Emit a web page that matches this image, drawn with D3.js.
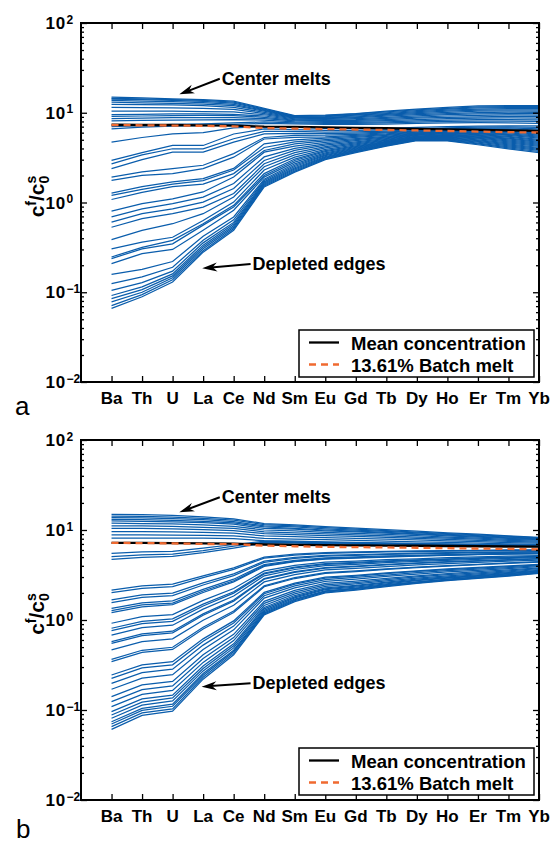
<!DOCTYPE html>
<html><head><meta charset="utf-8">
<script src="https://cdn.jsdelivr.net/npm/d3@7"></script>
<style>
body{margin:0;background:#fff}
svg{display:block}
text{font-family:"Liberation Sans",Arial,Helvetica,sans-serif}
</style>
</head><body>
<svg id="c" width="556" height="843"></svg>
<script>
// ---------- DATA ----------
const elements = ["Ba","Th","U","La","Ce","Nd","Sm","Eu","Gd","Tb","Dy","Ho","Er","Tm","Yb"];
const decadeExponents = [-2,-1,0,1,2];
const legendLabels = ["Mean concentration","13.61% Batch melt"];
const panelLetters = ["a","b"];

// Panel a: depleted (lower) melts
const meltsALower = [
[0.066,0.089,0.13,0.28,0.49,1.49,2.18,3.0,3.6,4.25,4.9,4.85,4.4,3.95,3.6],
[0.071,0.094,0.138,0.29,0.51,1.53,2.24,3.06,3.66,4.3,4.94,4.92,4.5,4.06,3.7],
[0.078,0.1,0.145,0.305,0.53,1.57,2.3,3.12,3.72,4.35,4.98,4.99,4.6,4.17,3.8],
[0.085,0.107,0.152,0.32,0.55,1.61,2.37,3.18,3.78,4.4,5.02,5.06,4.7,4.28,3.9],
[0.092,0.115,0.16,0.335,0.575,1.65,2.44,3.25,3.84,4.45,5.06,5.13,4.8,4.39,4.0],
[0.105,0.128,0.172,0.355,0.6,1.7,2.52,3.32,3.9,4.5,5.1,5.2,4.9,4.5,4.1],
[0.125,0.148,0.19,0.38,0.64,1.76,2.6,3.4,3.97,4.56,5.15,5.28,5.0,4.62,4.21],
[0.158,0.18,0.22,0.42,0.69,1.82,2.7,3.48,4.04,4.62,5.2,5.36,5.1,4.74,4.32],
[0.208,0.27,0.3,0.49,0.82,1.92,2.82,3.58,4.12,4.68,5.25,5.44,5.2,4.86,4.44],
[0.237,0.305,0.346,0.56,0.89,2.0,2.94,3.68,4.2,4.74,5.3,5.52,5.3,4.98,4.56],
[0.247,0.317,0.378,0.58,0.93,2.1,3.05,3.78,4.28,4.8,5.35,5.6,5.4,5.1,4.68],
[0.305,0.362,0.41,0.63,1.01,2.3,3.2,3.9,4.38,4.88,5.42,5.68,5.5,5.22,4.8],
[0.385,0.49,0.58,0.75,1.15,2.5,3.4,4.05,4.5,4.96,5.5,5.76,5.6,5.34,4.93],
[0.53,0.66,0.75,0.89,1.26,2.7,3.6,4.2,4.62,5.05,5.58,5.84,5.7,5.46,5.06],
[0.605,0.75,0.85,1.01,1.43,2.94,3.8,4.35,4.75,5.15,5.66,5.92,5.8,5.58,5.2],
[0.69,0.85,0.97,1.15,1.63,3.22,4.0,4.5,4.88,5.25,5.74,6.0,5.9,5.7,5.34],
[0.80,0.97,1.1,1.31,1.92,3.64,4.25,4.67,5.02,5.36,5.82,6.08,6.0,5.83,5.48],
[1.08,1.3,1.5,1.6,2.1,3.8,4.5,4.85,5.16,5.47,5.9,6.16,6.1,5.96,5.62],
[1.20,1.4,1.6,1.75,2.3,4.1,4.75,5.02,5.3,5.58,5.98,6.24,6.2,6.09,5.77],
[1.27,1.5,1.7,1.85,2.4,4.5,5.0,5.2,5.45,5.7,6.07,6.32,6.3,6.22,5.92],
[1.76,2.0,2.1,2.38,3.2,5.1,5.3,5.4,5.6,5.82,6.16,6.4,6.4,6.35,6.08],
[1.92,2.2,2.38,2.6,3.5,5.3,5.6,5.62,5.76,5.95,6.25,6.48,6.5,6.48,6.24],
[2.38,3.0,3.64,3.64,4.7,5.8,5.9,5.85,5.94,6.1,6.36,6.58,6.62,6.62,6.42],
[2.70,3.4,3.97,3.97,5.13,6.2,6.2,6.1,6.14,6.26,6.48,6.68,6.76,6.78,6.62],
[2.94,3.6,4.32,4.32,5.8,6.6,6.5,6.35,6.35,6.45,6.63,6.8,6.9,6.95,6.86],
[4.7,5.3,5.8,6.0,6.8,7.0,6.9,6.7,6.65,6.7,6.85,7.0,7.1,7.15,7.15]
];
// Panel a: center (upper) melts
const meltsAUpper = [
[14.9,14.6,14.3,14.0,13.5,11.2,9.3,9.4,9.8,10.4,11.0,11.5,11.9,12.0,12.0],
[14.5,14.3,14.0,13.7,13.1,11.0,9.2,9.3,9.7,10.2,10.8,11.2,11.6,11.7,11.7],
[14.2,14.0,13.7,13.4,12.8,10.8,9.1,9.2,9.55,10.0,10.55,10.95,11.3,11.4,11.4],
[13.7,13.5,13.3,13.0,12.4,10.6,9.0,9.05,9.4,9.8,10.3,10.7,11.0,11.1,11.1],
[13.1,12.9,12.7,12.5,12.0,10.4,8.9,8.9,9.2,9.6,10.05,10.4,10.7,10.8,10.8],
[12.4,12.3,12.2,12.0,11.5,10.1,8.8,8.75,9.0,9.4,9.8,10.1,10.4,10.5,10.45],
[11.5,11.4,11.3,11.2,10.9,9.8,8.7,8.6,8.8,9.15,9.55,9.8,10.05,10.15,10.1],
[10.4,10.4,10.4,10.3,10.2,9.5,8.55,8.45,8.6,8.9,9.25,9.5,9.7,9.8,9.75],
[9.5,9.6,9.7,9.7,9.6,9.2,8.4,8.3,8.4,8.65,8.95,9.2,9.35,9.45,9.4],
[9.1,9.2,9.3,9.35,9.3,8.9,8.25,8.15,8.2,8.4,8.7,8.9,9.0,9.1,9.05],
[8.6,8.7,8.8,8.85,8.8,8.6,8.1,8.0,8.0,8.15,8.4,8.6,8.7,8.75,8.7],
[8.1,8.2,8.3,8.35,8.4,8.3,7.9,7.8,7.8,7.9,8.1,8.3,8.4,8.4,8.35],
[7.0,7.2,7.4,7.5,7.7,7.9,7.7,7.6,7.6,7.7,7.85,8.0,8.05,8.05,8.0],
[6.6,6.9,7.1,7.2,7.4,7.6,7.5,7.4,7.4,7.45,7.6,7.7,7.75,7.7,7.6]
];
const meanA  = [7.35,7.3,7.3,7.25,7.2,7.0,6.95,6.88,6.8,6.72,6.62,6.52,6.44,6.35,6.27];
const batchA = [7.3,7.25,7.2,7.15,7.05,6.75,6.65,6.58,6.5,6.43,6.35,6.26,6.17,6.08,6.02];

// Panel b: depleted (lower) melts
const meltsBLower = [
[0.061,0.087,0.097,0.22,0.41,1.14,1.6,2.0,2.15,2.35,2.55,2.74,2.9,3.08,3.3],
[0.0653,0.093,0.103,0.231,0.428,1.17,1.64,2.04,2.19,2.39,2.59,2.78,2.94,3.12,3.34],
[0.0698,0.099,0.11,0.243,0.447,1.2,1.68,2.08,2.23,2.43,2.63,2.82,2.98,3.16,3.38],
[0.074,0.104,0.116,0.254,0.462,1.24,1.71,2.11,2.26,2.47,2.66,2.85,3.01,3.19,3.41],
[0.081,0.113,0.126,0.272,0.49,1.28,1.76,2.17,2.32,2.52,2.73,2.92,3.07,3.25,3.46],
[0.088,0.122,0.136,0.289,0.516,1.33,1.81,2.22,2.38,2.58,2.78,2.96,3.12,3.3,3.51],
[0.096,0.133,0.146,0.308,0.544,1.38,1.87,2.28,2.43,2.64,2.84,3.02,3.18,3.35,3.56],
[0.109,0.149,0.165,0.338,0.59,1.45,1.95,2.37,2.52,2.72,2.92,3.1,3.26,3.43,3.64],
[0.124,0.168,0.185,0.373,0.638,1.53,2.04,2.45,2.61,2.81,3.01,3.19,3.34,3.52,3.72],
[0.141,0.19,0.208,0.41,0.692,1.61,2.13,2.55,2.71,2.9,3.1,3.28,3.44,3.6,3.8],
[0.17,0.226,0.247,0.471,0.778,1.75,2.27,2.69,2.85,3.05,3.24,3.42,3.57,3.73,3.92],
[0.198,0.26,0.284,0.526,0.855,1.86,2.39,2.81,2.97,3.16,3.35,3.53,3.68,3.83,4.01],
[0.225,0.293,0.318,0.58,0.926,1.96,2.5,2.92,3.07,3.27,3.46,3.63,3.78,3.93,4.11],
[0.245,0.317,0.344,0.617,0.977,2.03,2.57,2.99,3.14,3.34,3.52,3.7,3.84,4.0,4.16],
[0.344,0.436,0.471,0.795,1.21,2.34,2.89,3.3,3.45,3.65,3.82,3.98,4.12,4.25,4.41],
[0.366,0.461,0.498,0.832,1.26,2.4,2.95,3.36,3.51,3.7,3.87,4.03,4.16,4.3,4.45],
[0.465,0.576,0.618,0.994,1.46,2.65,3.2,3.6,3.75,3.93,4.09,4.24,4.37,4.5,4.64],
[0.55,0.672,0.721,1.13,1.62,2.84,3.39,3.78,3.93,4.1,4.25,4.39,4.52,4.64,4.77],
[0.574,0.702,0.751,1.17,1.67,2.89,3.44,3.83,3.98,4.15,4.3,4.44,4.56,4.68,4.8],
[0.68,0.821,0.875,1.32,1.85,3.1,3.64,4.02,4.16,4.33,4.47,4.6,4.72,4.84,4.94],
[0.76,0.911,0.968,1.43,1.99,3.25,3.79,4.14,4.29,4.46,4.59,4.72,4.83,4.94,5.03],
[0.81,0.965,1.03,1.5,2.06,3.33,3.86,4.23,4.37,4.53,4.65,4.78,4.89,5.0,5.09],
[0.92,1.09,1.15,1.65,2.24,3.51,4.04,4.39,4.52,4.68,4.79,4.92,5.03,5.11,5.19],
[1.21,1.4,1.48,2.02,2.65,3.94,4.44,4.74,4.88,5.01,5.11,5.21,5.31,5.38,5.44],
[1.27,1.47,1.54,2.1,2.73,4.02,4.51,4.81,4.94,5.07,5.17,5.27,5.36,5.43,5.49],
[1.35,1.55,1.63,2.19,2.84,4.12,4.6,4.89,5.02,5.15,5.24,5.33,5.43,5.49,5.54],
[1.56,1.78,1.87,2.45,3.11,4.37,4.83,5.11,5.23,5.35,5.43,5.5,5.59,5.64,5.68],
[1.67,1.9,1.99,2.58,3.25,4.51,4.96,5.21,5.33,5.44,5.52,5.6,5.67,5.72,5.75],
[2.01,2.25,2.35,2.95,3.65,4.86,5.27,5.5,5.6,5.7,5.75,5.82,5.88,5.92,5.92],
[2.15,2.4,2.5,3.1,3.8,5.0,5.4,5.6,5.7,5.8,5.85,5.9,5.95,6.0,6.0]
];
// Panel b: melts near the mean
const meltsBMiddle = [
[5.5,5.7,5.8,6.3,6.9,7.5,7.4,7.3,7.2,7.1,7.0,6.95,6.9,6.85,6.8],
[5.06,5.3,5.4,5.9,6.6,7.35,7.3,7.2,7.1,7.0,6.9,6.85,6.8,6.75,6.7],
[4.72,4.95,5.1,5.6,6.3,7.2,7.15,7.05,6.95,6.85,6.75,6.7,6.65,6.6,6.55]
];
// Panel b: center (upper) melts
const meltsBUpper = [
[14.9,14.8,14.5,14.0,13.3,11.8,11.4,10.9,10.5,10.1,9.7,9.3,9.0,8.6,8.3],
[14.3,14.2,13.9,13.5,12.9,11.5,11.1,10.6,10.2,9.87,9.49,9.1,8.82,8.47,8.19],
[13.7,13.6,13.4,13.0,12.4,11.1,10.8,10.3,9.98,9.63,9.29,8.93,8.67,8.33,8.06],
[13.1,13.0,12.8,12.5,12.0,10.8,10.4,10.0,9.74,9.4,9.08,8.75,8.51,8.19,7.95],
[12.6,12.5,12.3,12.1,11.6,10.4,10.2,9.8,9.51,9.21,8.92,8.59,8.36,8.06,7.84],
[11.9,11.8,11.7,11.4,11.0,10.0,9.77,9.44,9.19,8.92,8.65,8.36,8.14,7.88,7.7],
[11.1,11.1,11.0,10.7,10.4,9.55,9.31,9.04,8.82,8.58,8.34,8.11,7.91,7.68,7.52],
[10.4,10.4,10.3,10.1,9.86,9.1,8.91,8.67,8.48,8.27,8.08,7.85,7.69,7.49,7.35],
[9.6,9.58,9.52,9.43,9.21,8.59,8.44,8.24,8.08,7.91,7.75,7.57,7.42,7.26,7.15],
[8.8,8.8,8.76,8.72,8.58,8.07,7.94,7.8,7.67,7.54,7.4,7.28,7.16,7.02,6.94],
[8.1,8.1,8.1,8.1,8.0,7.6,7.5,7.4,7.3,7.2,7.1,7.0,6.9,6.8,6.75]
];
const meanB  = [7.2,7.2,7.15,7.1,7.05,6.9,6.85,6.8,6.75,6.72,6.68,6.64,6.6,6.56,6.53];
const batchB = [7.2,7.15,7.1,7.0,6.95,6.7,6.6,6.5,6.45,6.4,6.35,6.28,6.22,6.16,6.1];

// annotations: text anchor and arrow tip in data units (element index, value)
const annotationsA = [
  {text:"Center melts",  tx:4.61, tv:20.5, ax:3.22, av:16.05},
  {text:"Depleted edges",tx:5.62, tv:0.177, ax:3.97, av:0.185}
];
const annotationsB = [
  {text:"Center melts",  tx:4.61, tv:19.8, ax:3.22, av:15.7},
  {text:"Depleted edges",tx:5.62, tv:0.17, ax:3.95, av:0.1815}
];

// ---------- LAYOUT ----------
const BLUE = "#0a5dac", ORANGE = "#f06a30";
const panels = [
  {top:23,  bottom:382, melts:[...meltsALower, ...meltsAUpper], mean:meanA, batch:batchA, ann:annotationsA, letter:panelLetters[0], letterX:15, letterY:415},
  {top:440, bottom:800, melts:[...meltsBLower, ...meltsBMiddle, ...meltsBUpper], mean:meanB, batch:batchB, ann:annotationsB, letter:panelLetters[1], letterX:16, letterY:838}
];
const svg = d3.select("#c");
const x = d3.scaleLinear().domain([0, 15]).range([81, 539]);

panels.forEach(p => {
  const y = d3.scaleLog().domain([0.01, 100]).range([p.bottom, p.top]);
  const g = svg.append("g");
  const line = d3.line().x((d,i) => x(i+1)).y(d => y(d));

  g.append("g").selectAll("path").data(p.melts).join("path")
    .attr("d", line).attr("fill","none").attr("stroke",BLUE).attr("stroke-width",1.25);
  g.append("path").attr("d", line(p.mean)).attr("fill","none").attr("stroke","#000").attr("stroke-width",2.3);
  g.append("path").attr("d", line(p.batch)).attr("fill","none").attr("stroke",ORANGE)
    .attr("stroke-width",2.3).attr("stroke-dasharray","7,5");

  // ticks
  const majors = decadeExponents.map(e => Math.pow(10, e));
  const minors = [];
  decadeExponents.slice(0,-1).forEach(e => { for (let m=2;m<=9;m++) minors.push(m*Math.pow(10,e)); });
  const strip = s => s.call(a => a.select(".domain").remove()).selectAll("line").attr("stroke","#000").attr("stroke-width",1.3);
  g.append("g").attr("transform",`translate(${x(0)},0)`).call(d3.axisLeft(y).tickValues(majors).tickSize(-6).tickFormat("")).call(strip);
  g.append("g").attr("transform",`translate(${x(0)},0)`).call(d3.axisLeft(y).tickValues(minors).tickSize(-3).tickFormat("")).call(strip);
  g.append("g").attr("transform",`translate(${x(15)},0)`).call(d3.axisRight(y).tickValues(majors).tickSize(-6).tickFormat("")).call(strip);
  g.append("g").attr("transform",`translate(${x(15)},0)`).call(d3.axisRight(y).tickValues(minors).tickSize(-3).tickFormat("")).call(strip);
  const xt = d3.range(1, elements.length+1);
  g.append("g").attr("transform",`translate(0,${p.bottom})`).call(d3.axisBottom(x).tickValues(xt).tickSize(-6).tickFormat("")).call(strip);
  g.append("g").attr("transform",`translate(0,${p.top})`).call(d3.axisTop(x).tickValues(xt).tickSize(-6).tickFormat("")).call(strip);

  // box
  g.append("rect").attr("x",x(0)).attr("y",p.top).attr("width",x(15)-x(0)).attr("height",p.bottom-p.top)
    .attr("fill","none").attr("stroke","#000").attr("stroke-width",2);

  // y tick labels
  decadeExponents.forEach(e => {
    const ty = y(Math.pow(10,e));
    g.append("text").attr("x",x(0)-15).attr("y",ty+6).attr("text-anchor","end")
      .attr("font-size",17).attr("font-weight","bold").attr("letter-spacing","0.8").text("10");
    g.append("text").attr("x",x(0)-14.5).attr("y",ty+0.5).attr("text-anchor","start")
      .attr("font-size",12).attr("font-weight","bold").text(e < 0 ? "\u2212" + Math.abs(e) : String(e));
  });
  // x tick labels
  g.append("g").selectAll("text").data(elements).join("text")
    .attr("x",(d,i)=>x(i+1)).attr("y",p.bottom+22).attr("text-anchor","middle")
    .attr("font-size",17).attr("font-weight","bold").text(d=>d);

  // y axis title c^f / c_0^s
  const mid = (p.top+p.bottom)/2 - 6;
  const t = g.append("text").attr("transform",`translate(43.5,${mid}) rotate(-90)`)
    .attr("text-anchor","middle").attr("font-weight","bold").attr("font-size",21);
  t.append("tspan").text("c");
  t.append("tspan").attr("font-size",14).attr("dy",-8).text("f");
  t.append("tspan").attr("dy",8).text("/c");
  t.append("tspan").attr("font-size",14).attr("dy",5).text("0");
  t.append("tspan").attr("font-size",14).attr("dx",-7.8).attr("dy",-13).text("s");

  // annotations
  p.ann.forEach(a => {
    const txp = x(a.tx), typ = y(a.tv);
    g.append("text").attr("x",txp).attr("y",typ).attr("font-size",18).attr("font-weight","bold").text(a.text);
    const tail = [txp-2, typ-6];
    const tip = [x(a.ax), y(a.av)];
    const dx = tip[0]-tail[0], dy = tip[1]-tail[1], L = Math.hypot(dx,dy);
    const ux = dx/L, uy = dy/L, nx = -uy, ny = ux;
    const HL = 15, HW = 9;
    g.append("line").attr("x1",tail[0]).attr("y1",tail[1]).attr("x2",tip[0]-ux*HL*0.6).attr("y2",tip[1]-uy*HL*0.6)
      .attr("stroke","#000").attr("stroke-width",2);
    const pts = [tip,
      [tip[0]-ux*HL+nx*HW/2, tip[1]-uy*HL+ny*HW/2],
      [tip[0]-ux*HL*0.7, tip[1]-uy*HL*0.7],
      [tip[0]-ux*HL-nx*HW/2, tip[1]-uy*HL-ny*HW/2]];
    g.append("polygon").attr("points",pts.map(q=>q.join(",")).join(" ")).attr("fill","#000");
  });

  // legend
  const lx = 299, lw = 235, lh = 47, ly = p.bottom - 52;
  g.append("rect").attr("x",lx).attr("y",ly).attr("width",lw).attr("height",lh)
    .attr("fill","#fff").attr("stroke","#000").attr("stroke-width",1.5);
  const rows = [ly+12.5, ly+34.5];
  g.append("line").attr("x1",lx+10).attr("x2",lx+40).attr("y1",rows[0]).attr("y2",rows[0]).attr("stroke","#000").attr("stroke-width",2.3);
  g.append("line").attr("x1",lx+10).attr("x2",lx+40).attr("y1",rows[1]).attr("y2",rows[1]).attr("stroke",ORANGE).attr("stroke-width",2.3).attr("stroke-dasharray","7,5");
  legendLabels.forEach((s,i) => {
    g.append("text").attr("x",lx+52).attr("y",rows[i]+7).attr("font-size",18.5).attr("font-weight","bold").text(s);
  });

  // panel letter
  svg.append("text").attr("x",p.letterX).attr("y",p.letterY).attr("font-size",26).text(p.letter);
});
</script>
</body></html>
